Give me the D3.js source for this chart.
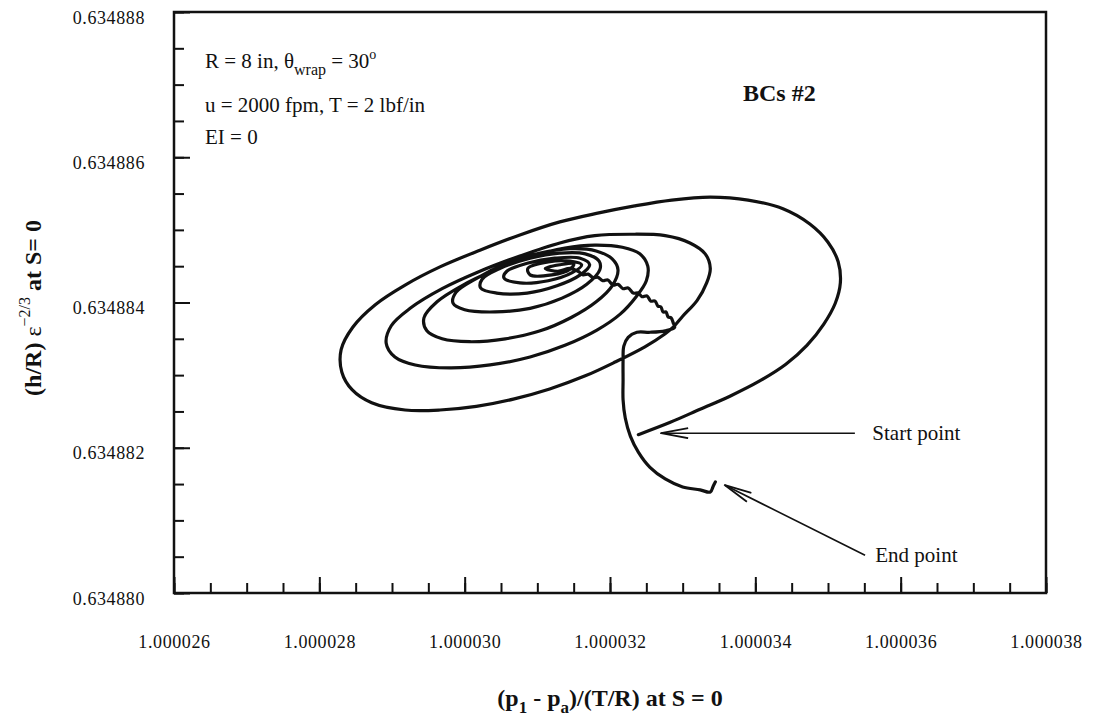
<!DOCTYPE html>
<html>
<head>
<meta charset="utf-8">
<script src="https://cdn.jsdelivr.net/npm/d3@7"></script>
<style>
  body { margin: 0; background: #fff; }
  svg { display: block; font-family: "Liberation Serif", "Times New Roman", serif; }
</style>
</head>
<body>
<div id="chart"></div>
<script>
// trajectory of (p1 - pa)/(T/R) vs (h/R) eps^-2/3 at S = 0
const trajX = [
  // outer loop from the start point
  1.00003239, 1.00003283, 1.00003324, 1.00003365, 1.00003406, 1.00003442, 1.00003471, 1.00003494, 1.00003510, 1.00003517,
  1.00003514, 1.00003500, 1.00003475, 1.00003438, 1.00003390, 1.00003338, 1.00003285, 1.00003234, 1.00003183, 1.00003131,
  1.00003076, 1.00003021, 1.00002966, 1.00002918, 1.00002877, 1.00002846, 1.00002830, 1.00002831, 1.00002845, 1.00002872,
  1.00002918, 1.00002966, 1.00003016, 1.00003067, 1.00003117, 1.00003166, 1.00003207, 1.00003248, 1.00003276, 1.00003287,
  // second loop
  1.00003300, 1.00003320, 1.00003333, 1.00003338, 1.00003331, 1.00003310, 1.00003276, 1.00003228, 1.00003179, 1.00003131,
  1.00003076, 1.00003021, 1.00002969, 1.00002925, 1.00002899, 1.00002892, 1.00002904, 1.00002932, 1.00002980, 1.00003035,
  1.00003090, 1.00003138, 1.00003182, 1.00003214, 1.00003236, 1.00003250, 1.00003252, 1.00003241,
  // third loop
  1.00003217, 1.00003179, 1.00003138, 1.00003090, 1.00003042, 1.00002996, 1.00002962, 1.00002944, 1.00002948, 1.00002969,
  1.00003007, 1.00003056, 1.00003104, 1.00003146, 1.00003181, 1.00003203, 1.00003211, 1.00003203,
  // fourth loop
  1.00003181, 1.00003145, 1.00003104, 1.00003056, 1.00003014, 1.00002988, 1.00002984, 1.00003000, 1.00003042, 1.00003090,
  1.00003134, 1.00003168, 1.00003186, 1.00003185,
  // fifth loop
  1.00003166, 1.00003131, 1.00003090, 1.00003049, 1.00003024, 1.00003022, 1.00003044, 1.00003086, 1.00003127, 1.00003159, 1.00003172,
  // sixth loop
  1.00003159, 1.00003124, 1.00003086, 1.00003058, 1.00003054, 1.00003076, 1.00003115, 1.00003148, 1.00003161,
  // innermost turns
  1.00003145, 1.00003115, 1.00003087, 1.00003090, 1.00003120, 1.00003145, 1.00003150, 1.00003131, 1.00003111, 1.00003128, 1.00003145,
  // jagged drift out of the focus
  1.00003156, 1.00003163, 1.00003170, 1.00003177, 1.00003183, 1.00003190, 1.00003197, 1.00003204, 1.00003211, 1.00003218,
  1.00003225, 1.00003232, 1.00003239, 1.00003244, 1.00003251, 1.00003256, 1.00003262, 1.00003266, 1.00003270, 1.00003273,
  1.00003277, 1.00003280, 1.00003284, 1.00003287, 1.00003289,
  // tail down to the end point
  1.00003276, 1.00003255, 1.00003237, 1.00003225, 1.00003219, 1.00003218, 1.00003218, 1.00003218, 1.00003221, 1.00003228,
  1.00003239, 1.00003255, 1.00003276, 1.00003300, 1.00003324, 1.00003338, 1.00003342, 1.00003345
];

const trajY = [
  0.63488218, 0.63488235, 0.63488253, 0.63488271, 0.63488292, 0.63488315, 0.63488341, 0.63488370, 0.63488399, 0.63488427,
  0.63488456, 0.63488483, 0.63488508, 0.63488529, 0.63488541, 0.63488545, 0.63488541, 0.63488533, 0.63488523, 0.63488511,
  0.63488493, 0.63488472, 0.63488449, 0.63488424, 0.63488397, 0.63488366, 0.63488335, 0.63488304, 0.63488280, 0.63488262,
  0.63488252, 0.63488252, 0.63488257, 0.63488267, 0.63488281, 0.63488299, 0.63488318, 0.63488339, 0.63488357, 0.63488366,

  0.63488381, 0.63488403, 0.63488427, 0.63488447, 0.63488467, 0.63488482, 0.63488492, 0.63488494, 0.63488492, 0.63488482,
  0.63488464, 0.63488443, 0.63488419, 0.63488392, 0.63488368, 0.63488344, 0.63488325, 0.63488314, 0.63488310, 0.63488314,
  0.63488325, 0.63488341, 0.63488362, 0.63488384, 0.63488408, 0.63488430, 0.63488450, 0.63488467,

  0.63488476, 0.63488479, 0.63488475, 0.63488463, 0.63488445, 0.63488423, 0.63488401, 0.63488379, 0.63488361, 0.63488350,
  0.63488346, 0.63488350, 0.63488361, 0.63488379, 0.63488401, 0.63488423, 0.63488445, 0.63488460,

  0.63488471, 0.63488474, 0.63488468, 0.63488453, 0.63488432, 0.63488414, 0.63488399, 0.63488390, 0.63488387, 0.63488392,
  0.63488406, 0.63488425, 0.63488445, 0.63488457,

  0.63488467, 0.63488468, 0.63488461, 0.63488447, 0.63488432, 0.63488420, 0.63488413, 0.63488413, 0.63488423, 0.63488438, 0.63488452,

  0.63488461, 0.63488461, 0.63488454, 0.63488443, 0.63488434, 0.63488427, 0.63488430, 0.63488441, 0.63488452,

  0.63488457, 0.63488456, 0.63488447, 0.63488438, 0.63488438, 0.63488446, 0.63488453, 0.63488452, 0.63488447, 0.63488443, 0.63488447,

  0.63488443, 0.63488438, 0.63488439, 0.63488434, 0.63488435, 0.63488430, 0.63488431, 0.63488424, 0.63488425, 0.63488419,
  0.63488420, 0.63488413, 0.63488413, 0.63488408, 0.63488409, 0.63488402, 0.63488402, 0.63488395, 0.63488394, 0.63488387,
  0.63488387, 0.63488380, 0.63488379, 0.63488372, 0.63488366,

  0.63488361, 0.63488359, 0.63488359, 0.63488352, 0.63488340, 0.63488321, 0.63488293, 0.63488266, 0.63488241, 0.63488216,
  0.63488194, 0.63488173, 0.63488157, 0.63488146, 0.63488142, 0.63488139, 0.63488147, 0.63488153
];

const xDomain = [1.000026, 1.000038];
const yDomain = [0.634880, 0.634888];
const xTickValues = [1.000026, 1.000028, 1.000030, 1.000032, 1.000034, 1.000036, 1.000038];
const yTickValues = [0.634880, 0.634882, 0.634884, 0.634886, 0.634888];

// arrows: [tail, tip] in data units, and the label that sits at the tail
const startArrow = [[1.00003537, 0.63488220], [1.00003269, 0.63488220]];
const endArrow = [[1.00003551, 0.63488052], [1.00003357, 0.63488149]];
const startLabel = { text: "Start point", x: 1.00003561, y: 0.63488211 };
const endLabel = { text: "End point", x: 1.00003565, y: 0.63488043 };

const totalWidth = 1094, totalHeight = 726;
const margin = { top: 12, right: 48, bottom: 133, left: 174 };
const width = totalWidth - margin.left - margin.right;
const height = totalHeight - margin.top - margin.bottom;
const serif = '"Liberation Serif", "Times New Roman", serif';

const svg = d3.select("#chart").append("svg")
    .attr("width", totalWidth)
    .attr("height", totalHeight);

svg.append("defs").append("marker")
    .attr("id", "open-arrow")
    .attr("viewBox", "0 -6 30 12")
    .attr("refX", 0)
    .attr("refY", 0)
    .attr("markerUnits", "userSpaceOnUse")
    .attr("markerWidth", 30)
    .attr("markerHeight", 12)
    .attr("orient", "auto")
    .append("path")
        .attr("d", "M28,-5L1,0L28,5")
        .attr("fill", "none")
        .attr("stroke", "#111")
        .attr("stroke-width", 1.8);

const g = svg.append("g").attr("transform", `translate(${margin.left},${margin.top})`);

const x = d3.scaleLinear().domain(xDomain).range([0, width]);
const y = d3.scaleLinear().domain(yDomain).range([height, 0]);

function styleAxis(sel) {
    sel.attr("font-family", serif).attr("font-size", 18);
    sel.select(".domain").remove();
    sel.selectAll(".tick line").attr("stroke", "#111").attr("stroke-width", 2);
    sel.selectAll(".tick text")
        .attr("fill", "#111")
        .style("letter-spacing", "0.6px");
}

// minor ticks
g.append("g")
    .attr("transform", `translate(0,${height})`)
    .call(d3.axisBottom(x).tickValues(x.ticks(24)).tickSize(-10).tickFormat(""))
    .call(styleAxis);
g.append("g")
    .call(d3.axisLeft(y).tickValues(y.ticks(16)).tickSize(-10).tickFormat(""))
    .call(styleAxis);

// major ticks with labels
g.append("g")
    .attr("transform", `translate(0,${height})`)
    .call(d3.axisBottom(x).tickValues(xTickValues).tickSize(-16).tickPadding(42).tickFormat(d3.format(".6f")))
    .call(styleAxis);
g.append("g")
    .call(d3.axisLeft(y).tickValues(yTickValues).tickSize(-16).tickPadding(29).tickFormat(d3.format(".6f")))
    .call(styleAxis)
    .call(sel => sel.selectAll(".tick text").attr("dy", "0.62em"));

// frame
g.append("rect")
    .attr("width", width)
    .attr("height", height)
    .attr("fill", "none")
    .attr("stroke", "#111")
    .attr("stroke-width", 2.5);

// trajectory
const points = trajX.map((d, i) => [d, trajY[i]]);
const line = d3.line()
    .x(d => x(d[0]))
    .y(d => y(d[1]))
    .curve(d3.curveCatmullRom.alpha(0.5));

g.append("path")
    .datum(points)
    .attr("d", line)
    .attr("fill", "none")
    .attr("stroke", "#111")
    .attr("stroke-width", 3.2)
    .attr("stroke-linejoin", "round")
    .attr("stroke-linecap", "round");

// annotation arrows, drawn from the tip so the marker sits at the start
[startArrow, endArrow].forEach(a => {
    g.append("line")
        .attr("x1", x(a[1][0])).attr("y1", y(a[1][1]))
        .attr("x2", x(a[0][0])).attr("y2", y(a[0][1]))
        .attr("stroke", "#111")
        .attr("stroke-width", 1.6)
        .attr("marker-start", "url(#open-arrow)");
});

[startLabel, endLabel].forEach(l => {
    g.append("text")
        .attr("x", x(l.x))
        .attr("y", y(l.y))
        .attr("fill", "#111")
        .style("font-size", "21px")
        .text(l.text);
});

// parameter block, top left
const info = g.append("text")
    .attr("fill", "#111")
    .style("font-size", "21px");

const line1 = info.append("tspan").attr("x", 31).attr("y", 56);
line1.append("tspan").text("R = 8 in, θ");
line1.append("tspan").attr("dy", 7).style("font-size", "16px").text("wrap");
line1.append("tspan").attr("dy", -7).text(" = 30");
line1.append("tspan").attr("dy", -9).style("font-size", "14px").text("o");

info.append("tspan").attr("x", 31).attr("y", 100).text("u = 2000 fpm, T = 2 lbf/in");
info.append("tspan").attr("x", 31).attr("y", 132).text("EI = 0");

g.append("text")
    .attr("x", 569)
    .attr("y", 89)
    .attr("fill", "#111")
    .style("font-size", "24px")
    .style("font-weight", "bold")
    .text("BCs #2");

// axis titles
const xTitle = svg.append("text")
    .attr("x", margin.left + width / 2)
    .attr("y", 706)
    .attr("text-anchor", "middle")
    .attr("fill", "#111")
    .style("font-size", "24px")
    .style("font-weight", "bold");
xTitle.append("tspan").text("(p");
xTitle.append("tspan").attr("dy", 7).style("font-size", "17px").text("1");
xTitle.append("tspan").attr("dy", -7).text(" - p");
xTitle.append("tspan").attr("dy", 7).style("font-size", "17px").text("a");
xTitle.append("tspan").attr("dy", -7).text(")/(T/R) at S = 0");

const yTitle = svg.append("text")
    .attr("transform", "translate(41,308) rotate(-90)")
    .attr("text-anchor", "middle")
    .attr("fill", "#111")
    .style("font-size", "24px")
    .style("font-weight", "bold");
yTitle.append("tspan").text("(h/R) ");
yTitle.append("tspan").style("font-weight", "normal").text("ε");
yTitle.append("tspan").attr("dy", -11).style("font-size", "16px").style("font-weight", "normal").text("−2/3");
yTitle.append("tspan").attr("dy", 11).text(" at S= 0");
</script>
</body>
</html>
